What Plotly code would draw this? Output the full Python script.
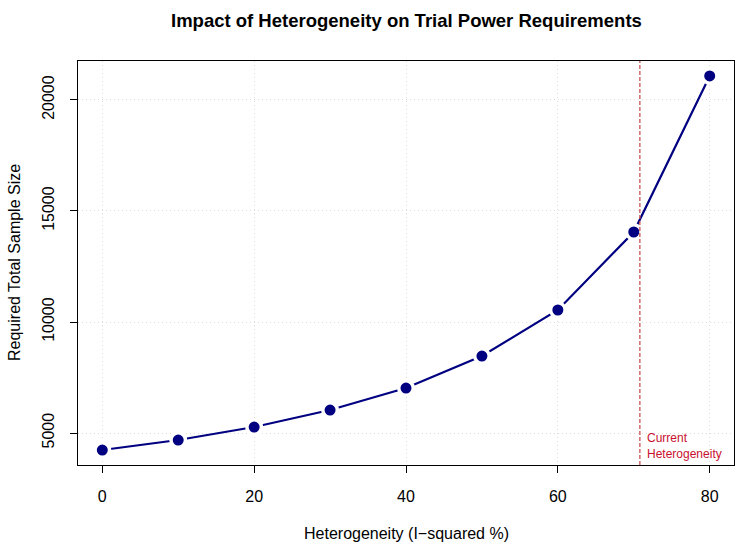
import plotly.graph_objects as go

heterogeneity = [0, 10, 20, 30, 40, 50, 60, 70, 80]
sample_size = [4234, 4685, 5270, 6036, 7027, 8468, 10541, 14054, 21081]
current_i2 = 70.8
x_ticks = [0, 20, 40, 60, 80]
y_ticks = [5000, 10000, 15000, 20000]

FONT = "Liberation Sans, Arial, sans-serif"

fig = go.Figure()
fig.add_trace(go.Scatter(
    x=heterogeneity, y=sample_size, mode="lines+markers",
    line=dict(color="#000080", width=2.2),
    marker=dict(color="#000080", size=14.5, line=dict(color="white", width=3.5)),
    showlegend=False, hoverinfo="x+y",
))

fig.add_shape(type="line", x0=current_i2, x1=current_i2, xref="x", yref="paper",
              y0=0, y1=1, line=dict(color="rgba(200,80,80,0.85)", width=1.5, dash="4px,2px"),
              layer="above")
fig.add_annotation(x=current_i2, y=0, xref="x", yref="paper", xanchor="left", yanchor="bottom",
                   xshift=5, yshift=2, showarrow=False, align="left",
                   text="Current<br>Heterogeneity", font=dict(family=FONT, size=12, color="#C8102E"))

fig.add_annotation(text="<b>Impact of Heterogeneity on Trial Power Requirements</b>",
                   xref="paper", yref="paper", x=0.5, y=1, yanchor="middle", yshift=41,
                   showarrow=False, font=dict(family=FONT, size=18.5, color="black"))
fig.add_annotation(text="Heterogeneity (I\u2212squared %)", xref="paper", yref="paper",
                   x=0.5, y=0, yanchor="middle", yshift=-68, showarrow=False,
                   font=dict(family=FONT, size=16, color="black"))
fig.add_annotation(text="Required Total Sample Size", xref="paper", yref="paper",
                   x=0, y=0.5, xanchor="center", xshift=-64, textangle=-90, showarrow=False,
                   font=dict(family=FONT, size=16, color="black"))

axis_common = dict(showline=True, linecolor="black", linewidth=1, mirror=True,
                   ticks="outside", ticklen=7, tickcolor="black", tickwidth=1,
                   showgrid=True, gridcolor="#DCDCDC", griddash="1px,3px", gridwidth=1,
                   zeroline=False, tickfont=dict(family=FONT, size=16, color="black"))

fig.update_layout(
    width=750, height=554, margin=dict(l=78, r=16, t=61, b=89),
    paper_bgcolor="white", plot_bgcolor="white",
    xaxis=dict(range=[-3.2, 83.2], tickvals=x_ticks, ticktext=[str(v) for v in x_ticks],
               ticklabelstandoff=10, **axis_common),
    yaxis=dict(range=[3560, 21755], tickvals=y_ticks, ticktext=[str(v) for v in y_ticks],
               tickangle=-90, ticklabelstandoff=10, **axis_common),
)

fig.write_html("out.html")
